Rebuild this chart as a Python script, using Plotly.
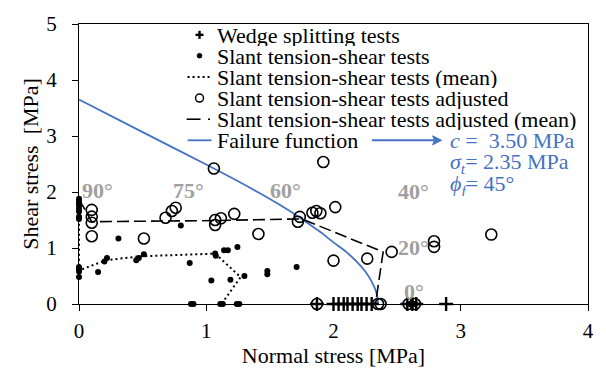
import plotly.graph_objects as go

# ---------------- data ----------------
wedge_x = [1.87, 2.00, 2.04, 2.08, 2.11, 2.15, 2.19, 2.22, 2.26, 2.30, 2.58, 2.62, 2.65, 2.885]
wedge_y = [0.0] * len(wedge_x)

slant_x = [0, 0, 0, 0, 0, 0, 0, 0, 0, 0, 0, 0,
           0.15, 0.20, 0.22, 0.31, 0.45, 0.47, 0.51, 0.80, 0.87, 0.88, 0.90,
           1.04, 1.07, 1.075, 1.14, 1.17, 1.245, 1.19, 1.30, 1.48, 1.48, 1.71,
           1.11, 1.13, 1.24, 1.26, 2.60, 2.64]
slant_y = [1.88, 1.84, 1.80, 1.76, 1.70, 1.65, 1.56, 1.52, 0.66, 0.62, 0.58, 0.48,
           0.57, 0.76, 0.82, 1.17, 0.78, 0.82, 0.89, 1.40, 0.73, 0.0, 0.0,
           0.42, 0.90, 0.86, 0.96, 0.96, 1.02, 0.435, 0.50, 0.59, 0.53, 0.66,
           0.0, 0.0, 0.0, 0.0, 0.0, 0.0]

slant_mean_x = [0, 0, 0.21, 0.47, 1.07, 1.27, 1.12]
slant_mean_y = [1.70, 0.60, 0.78, 0.85, 0.90, 0.48, 0.0]

adj_x = [0.10, 0.10, 0.10, 0.10, 0.51, 0.68, 0.73, 0.76, 1.06, 1.07, 1.07, 1.115,
         1.22, 1.41, 1.735, 1.72, 1.834, 1.865, 1.897, 1.92, 2.014, 2.00, 2.265,
         2.457, 2.79, 2.79, 3.24, 1.87, 2.35, 2.37, 2.59, 2.64]
adj_y = [1.68, 1.56, 1.45, 1.21, 1.17, 1.54, 1.66, 1.72, 2.42, 1.50, 1.41, 1.53,
         1.61, 1.25, 1.555, 1.47, 1.63, 1.66, 1.62, 2.535, 1.73, 0.775, 0.81,
         0.93, 1.12, 1.02, 1.24, 0.0, 0.0, 0.0, 0.0, 0.0]

adj_mean_x = [0, 0.10, 1.07, 1.75, 2.39, 2.33]
adj_mean_y = [1.87, 1.47, 1.49, 1.52, 0.93, 0.0]

fail_x = [0, 0.5, 1.0, 1.34, 1.6, 1.75, 1.9, 2.0, 2.1, 2.18, 2.25, 2.3, 2.33, 2.345, 2.35]
fail_y = [3.65, 3.07, 2.49, 2.08, 1.74, 1.52, 1.28, 1.10, 0.93, 0.76, 0.58, 0.40, 0.25, 0.12, 0.0]

angle_labels = ["90°", "75°", "60°", "40°", "20°", "0°"]
angle_x = [0.145, 0.86, 1.62, 2.63, 2.63, 2.63]
angle_y = [2.02, 2.02, 2.02, 2.01, 1.01, 0.22]

legend_names = ["Wedge splitting tests", "Slant tension-shear tests",
                "Slant tension-shear tests (mean)", "Slant tension-shear tests adjusted",
                "Slant tension-shear tests adjusted (mean)", "Failure function"]

param_lines = ["<i>c</i> =\u00a0 3.50 MPa", "<i>σ<sub>t</sub></i>= 2.35 MPa", "<i>ϕ<sub>f</sub></i>= 45°"]

# ---------------- style ----------------
FONT = "Liberation Serif"
BLUE = "#4472C4"
GRAY = "#A0A0A0"
W, H = 606, 374
L, R, T, B = 79, 16, 12, 70
PW, PH = W - L - R, H - T - B


def px2paper(px):
    return (px - L) / PW


def py2paper(py):
    return (H - B - py) / PH


fig = go.Figure()

fig.add_trace(go.Scatter(x=fail_x, y=fail_y, mode="lines", name=legend_names[5],
                         line=dict(color=BLUE, width=1.8, shape="spline", smoothing=0.6),
                         showlegend=False, cliponaxis=False))
fig.add_trace(go.Scatter(x=slant_mean_x, y=slant_mean_y, mode="lines", name=legend_names[2],
                         line=dict(color="black", width=2, dash="2px,3px"),
                         showlegend=False, cliponaxis=False))
fig.add_trace(go.Scatter(x=adj_mean_x, y=adj_mean_y, mode="lines", name=legend_names[4],
                         line=dict(color="black", width=1.6, dash="12px,5px"),
                         showlegend=False, cliponaxis=False))
fig.add_trace(go.Scatter(x=slant_x, y=slant_y, mode="markers", name=legend_names[1],
                         marker=dict(symbol="circle", size=6, color="black"),
                         showlegend=False, cliponaxis=False))
fig.add_trace(go.Scatter(x=adj_x, y=adj_y, mode="markers", name=legend_names[3],
                         marker=dict(symbol="circle-open", size=11, color="black",
                                     line=dict(width=1.6, color="black")),
                         showlegend=False, cliponaxis=False))
fig.add_trace(go.Scatter(x=wedge_x, y=wedge_y, mode="markers", name=legend_names[0],
                         marker=dict(symbol="cross-thin", size=10, color="black",
                                     line=dict(width=2.4, color="black")),
                         showlegend=False, cliponaxis=False))

annotations = []
shapes = []

# angle labels
for t, x, y in zip(angle_labels, angle_x, angle_y):
    annotations.append(dict(x=x, y=y, xref="x", yref="y", text="<b>" + t + "</b>",
                            showarrow=False, font=dict(family=FONT, size=22, color=GRAY),
                            xanchor="center", yanchor="middle"))

# manual legend
row_py = [23.3, 45.0, 67.3, 89.3, 111.3, 133.3]
text_px = 217
sym_px = 200
for name, py in zip(legend_names, row_py):
    annotations.append(dict(x=px2paper(text_px), y=py2paper(py), xref="paper", yref="paper",
                            text=name, showarrow=False, xanchor="left", yanchor="middle",
                            height=22, borderpad=0,
                            font=dict(family=FONT, size=22, color="black")))

ys = [py2paper(p) for p in row_py]
# plus
shapes.append(dict(type="line", xref="paper", yref="paper", xsizemode="pixel", ysizemode="pixel",
                   xanchor=px2paper(sym_px), yanchor=ys[0], x0=-4, x1=4, y0=0, y1=0,
                   line=dict(color="black", width=2.4)))
shapes.append(dict(type="line", xref="paper", yref="paper", xsizemode="pixel", ysizemode="pixel",
                   xanchor=px2paper(sym_px), yanchor=ys[0], x0=0, x1=0, y0=-4, y1=4,
                   line=dict(color="black", width=2.4)))
# dot
shapes.append(dict(type="circle", xref="paper", yref="paper", xsizemode="pixel", ysizemode="pixel",
                   xanchor=px2paper(sym_px), yanchor=ys[1], x0=-2.5, x1=2.5, y0=-2.5, y1=2.5,
                   fillcolor="black", line=dict(color="black", width=0.5)))
# dotted line
shapes.append(dict(type="line", xref="paper", yref="paper",
                   x0=px2paper(188), x1=px2paper(211), y0=ys[2], y1=ys[2],
                   line=dict(color="black", width=2, dash="2px,3px")))
# open circle
shapes.append(dict(type="circle", xref="paper", yref="paper", xsizemode="pixel", ysizemode="pixel",
                   xanchor=px2paper(sym_px), yanchor=ys[3], x0=-4, x1=4, y0=-4, y1=4,
                   line=dict(color="black", width=1.5)))
# dash-dot sample
shapes.append(dict(type="line", xref="paper", yref="paper",
                   x0=px2paper(187), x1=px2paper(201), y0=ys[4], y1=ys[4],
                   line=dict(color="black", width=1.6)))
shapes.append(dict(type="line", xref="paper", yref="paper",
                   x0=px2paper(208.5), x1=px2paper(210.5), y0=ys[4], y1=ys[4],
                   line=dict(color="black", width=1.6)))
# solid blue
shapes.append(dict(type="line", xref="paper", yref="paper",
                   x0=px2paper(188), x1=px2paper(212), y0=ys[5], y1=ys[5],
                   line=dict(color=BLUE, width=1.8)))

# blue arrow (shaft + head) and parameters
shapes.append(dict(type="line", xref="paper", yref="paper",
                   x0=px2paper(373), x1=px2paper(436), y0=ys[5], y1=ys[5],
                   line=dict(color=BLUE, width=2)))
shapes.append(dict(type="path", xref="paper", yref="paper", xsizemode="pixel", ysizemode="pixel",
                   xanchor=px2paper(443), yanchor=ys[5],
                   path="M 0,0 L -9,4.5 L -7,0 L -9,-4.5 Z",
                   fillcolor=BLUE, line=dict(color=BLUE, width=1)))

param_py = [133.3, 157.0, 180.0]
for t, py in zip(param_lines, param_py):
    annotations.append(dict(x=px2paper(450), y=py2paper(py), xref="paper", yref="paper",
                            text=t, showarrow=False, xanchor="left", yanchor="middle",
                            height=22, borderpad=0,
                            font=dict(family=FONT, size=22, color=BLUE)))

axis_common = dict(showgrid=False, zeroline=False, showline=True, linecolor="black",
                   linewidth=1.3, mirror=True, ticks="outside", ticklen=6, tickwidth=1.3,
                   tickcolor="black", tickfont=dict(family=FONT, size=21, color="black"),
                   dtick=1)

fig.update_layout(
    width=W, height=H,
    margin=dict(l=L, r=R, t=T, b=B),
    paper_bgcolor="white", plot_bgcolor="white",
    showlegend=False,
    xaxis=dict(range=[0, 4], title=dict(text="Normal stress [MPa]",
                                        font=dict(family=FONT, size=22, color="black"),
                                        standoff=2),
               ticklabelstandoff=2,
               **axis_common),
    yaxis=dict(range=[0, 5], title=dict(text="Shear stress\u00a0 [MPa]",
                                        font=dict(family=FONT, size=22, color="black"),
                                        standoff=1),
               ticklabelstandoff=11,
               **axis_common),
    annotations=annotations,
    shapes=shapes,
)

fig.write_html("out.html")
